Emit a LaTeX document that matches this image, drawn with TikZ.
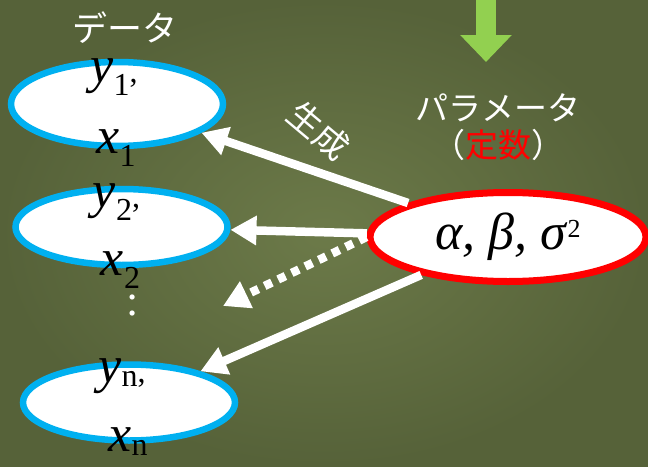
\documentclass[tikz,border=0pt]{standalone}
\usepackage{fontspec}
\setmainfont{Liberation Serif}[ItalicFont={Liberation Serif Italic}]
\newfontfamily\jpfont{Noto Sans CJK JP}
\usetikzlibrary{arrows.meta,shapes.geometric}
\definecolor{bgin}{RGB}{108,122,73}
\definecolor{bgout}{RGB}{86,98,57}
\definecolor{datacyan}{RGB}{0,176,240}
\definecolor{arrowgreen}{RGB}{146,208,80}

\newcommand{\subsz}{\fontsize{32}{32}\selectfont\upshape}
\newcommand{\varlab}[3][13pt]{\textit{#2}\raisebox{-#1}{\subsz #3}}

\begin{document}
\begin{tikzpicture}[x=1pt, y=-1pt,
    data/.style={ellipse, draw=datacyan, line width=6.5pt, fill=white,
                 inner sep=0pt, minimum width=212pt, minimum height=76pt},
    param/.style={ellipse, draw=red, line width=7pt, fill=white,
                 inner sep=0pt, minimum width=276pt, minimum height=89pt,
                 font=\fontsize{52}{52}\selectfont},
    var/.style={font=\fontsize{52}{52}\selectfont, inner sep=0pt, anchor=base},
    jp/.style={font=\jpfont\fontsize{33}{37}\selectfont, text=white,
                 align=center, inner sep=0pt},
    arr/.style={-{Triangle[width=28pt,length=26pt]}, line width=8.5pt, white},
    dotarr/.style={arr, dash pattern=on 8pt off 7pt},
    garr/.style={-{Triangle[width=50pt,length=27pt]}, line width=20pt,
                 arrowgreen}]

  %% Background
  \useasboundingbox (0,0) rectangle (648,466);
  \fill[inner color=bgin, outer color=bgout] (0,0) rectangle (648,466);

  %% Incoming arrow (top)
  \coordinate (gfrom) at (486,-5);
  \coordinate (gto)   at (486,62);
  \draw[garr] (gfrom) -- (gto);

  %% Data ellipses (left column)
  \node[jp, font=\jpfont\fontsize{35}{35}\selectfont] (dtitle) at (125,28) {データ};
  \node[data, minimum height=84pt] (d1) at (117,104) {};
  \node[data] (d2) at (121.5,227) {};
  \node[data] (d3) at (129,402.5) {};

  \node[var] (y1) at ([shift={(-3,-22)}]d1.center) {\varlab{y}{1}{\subsz ,}};
  \node[var] (x1) at ([shift={(-1,49)}]d1.center)  {\varlab{x}{1}};
  \node[var] (y2) at ([shift={(-5,-20)}]d2.center) {\varlab{y}{2}{\subsz ,}};
  \node[var] (x2) at ([shift={(-1,48)}]d2.center)  {\varlab{x}{2}};
  \node[var] (yn) at ([shift={(-7,-20)}]d3.center) {\varlab[4pt]{y}{n}{\subsz ,}};
  \node[var] (xn) at ([shift={(-1,49)}]d3.center)  {\varlab[4pt]{x}{n}};
  \node[var, text=white, font=\fontsize{44}{44}\selectfont]
        (vdots) at (133,315) {:};

  %% Parameters (right)
  \node[jp] (ptitle) at (498,127) {パラメータ\\（{\color{red}定数}）};
  \node[param] (par) at (508,237) {\textit{α, β, σ}\raisebox{12pt}{\fontsize{26}{26}\selectfont 2}};

  %% Generation arrows
  \coordinate (dotend) at (223,306);
  \draw[arr] (par) -- (d1);
  \draw[arr] (par) -- (d2);
  \draw[dotarr] (par.west) -- (dotend);
  \draw[arr] (par) -- (d3);
  \node[jp, font=\jpfont\fontsize{34}{34}\selectfont, rotate=-40]
        (gen) at (319,131) {生成};
\end{tikzpicture}
\end{document}
